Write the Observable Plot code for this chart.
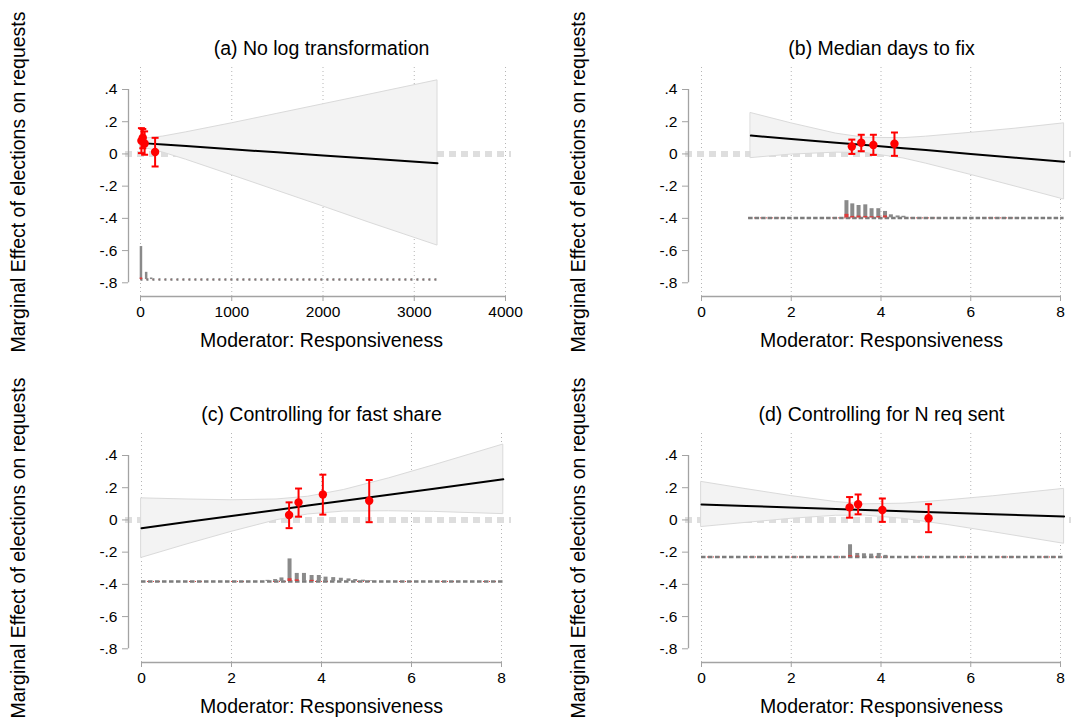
<!DOCTYPE html>
<html><head><meta charset="utf-8">
<script src="https://cdn.jsdelivr.net/npm/d3@7"></script>
<script src="https://cdn.jsdelivr.net/npm/@observablehq/plot@0.6"></script>
<style>
body{margin:0;background:#fff;}
#wrap{position:relative;width:1073px;height:724px;overflow:hidden;background:#fff;}
.panel{position:absolute;width:560px;height:366px;}
.panel svg{max-width:none !important;width:560px;height:366px;}
</style></head><body><div id="wrap"></div>
<script>
// ---------- shared labels / ticks ----------
const panelTitles = ["(a) No log transformation", "(b) Median days to fix", "(c) Controlling for fast share", "(d) Controlling for N req sent"];
const xTitle = "Moderator: Responsiveness";
const yTitle = "Marginal Effect of elections on requests";
const yTicks = [-0.8, -0.6, -0.4, -0.2, 0, 0.2, 0.4];
const aXTicks = [0, 1000, 2000, 3000, 4000];
const xTicks = [0, 2, 4, 6, 8];

// ---------- panel (a) ----------
const aBandX   = [0, 100, 250, 500, 1000, 1500, 2000, 2500, 3255];
const aBandEst = [.068, .064, .058, .049, .029, .010, -.009, -.029, -.058];
const aBandLo  = [.038, .030, .008, -.036, -.132, -.229, -.326, -.425, -.569];
const aBandHi  = [.098, .098, .108, .134, .190, .249, .308, .367, .457];
const aPtX  = [10, 25, 45, 160];
const aPtY  = [.082, .10, .065, .012];
const aPtLo = [.005, .035, -.005, -.078];
const aPtHi = [.16, .155, .14, .10];
const aHistX   = [5, 62, 117];
const aHistTop = [-.575, -.735, -.77];
const aHistBase = -.78;
const aHistRange = [5, 3270];
const aRedX = [5];
const aRedTop = [-.77];

// ---------- panel (b) ----------
const bBandX   = [1.1, 2, 3, 3.65, 4.5, 5, 6, 7, 8.08];
const bBandEst = [.114, .093, .070, .055, .035, .024, .000, -.023, -.048];
const bBandLo  = [-.026, -.004, .008, .006, -.028, -.060, -.130, -.203, -.283];
const bBandHi  = [.254, .190, .126, .100, .098, .107, .131, .157, .190];
const bPtX  = [3.35, 3.56, 3.83, 4.30];
const bPtY  = [.046, .069, .056, .063];
const bPtLo = [0, .017, -.006, -.012];
const bPtHi = [.089, .119, .119, .133];
const bHistX   = [3.23, 3.36, 3.50, 3.65, 3.79, 3.94, 4.09, 4.22, 4.37, 4.50];
const bHistTop = [-.29, -.31, -.32, -.316, -.34, -.34, -.357, -.378, -.385, -.387];
const bHistBase = -.397;
const bHistRange = [1.05, 8.08];
const bRedX   = [3.23, 3.36, 3.50, 3.65, 3.79, 3.94, 4.09];
const bRedTop = [-.375, -.388, -.386, -.388, -.39, -.389, -.385];

// ---------- panel (c) ----------
const cBandX   = [0, 1, 2, 3, 3.7, 4.5, 5.5, 6.5, 8.04];
const cBandEst = [-.051, -.013, .024, .062, .089, .119, .156, .194, .252];
const cBandLo  = [-.236, -.153, -.074, -.002, .034, .052, .054, .050, .036];
const cBandHi  = [.134, .127, .122, .127, .144, .186, .258, .339, .468];
const cPtX  = [3.28, 3.49, 4.03, 5.06];
const cPtY  = [.031, .109, .158, .119];
const cPtLo = [-.051, .020, .033, -.014];
const cPtHi = [.109, .195, .281, .248];
const cHistX   = [2.8, 2.97, 3.11, 3.29, 3.45, 3.61, 3.78, 3.94, 4.09, 4.26, 4.43, 4.6, 4.75, 4.92, 5.08];
const cHistTop = [-.375, -.37, -.36, -.242, -.332, -.332, -.345, -.345, -.355, -.358, -.362, -.366, -.37, -.374, -.378];
const cHistBase = -.382;
const cHistRange = [0, 8.04];
const cRedX   = [3.29, 3.45, 3.78];
const cRedTop = [-.365, -.372, -.375];

// ---------- panel (d) ----------
const dBandX   = [0, 1, 2, 3, 3.65, 4.5, 5.5, 6.5, 8.08];
const dBandEst = [.096, .087, .077, .068, .062, .054, .045, .036, .021];
const dBandLo  = [-.044, -.018, .007, .026, .027, .007, -.032, -.076, -.148];
const dBandHi  = [.236, .191, .148, .111, .097, .101, .122, .147, .193];
const dPtX  = [3.30, 3.49, 4.03, 5.06];
const dPtY  = [.078, .097, .062, .010];
const dPtLo = [.014, .035, -.012, -.076];
const dPtHi = [.142, .158, .133, .098];
const dHistX   = [3.31, 3.47, 3.62, 3.78, 3.95, 4.1];
const dHistTop = [-.154, -.208, -.21, -.212, -.208, -.22];
const dHistBase = -.230;
const dHistRange = [0, 8.08];
const dRedX   = [3.31, 3.47];
const dRedTop = [-.222, -.225];

// ---------- build ----------
const zip = (keys, arrs) => arrs[0].map((_, i) => Object.fromEntries(keys.map((k, j) => [k, arrs[j][i]])));
const cap = {draw(ctx, size) { const w = Math.sqrt(size / Math.PI); ctx.moveTo(-w, 0); ctx.lineTo(w, 0); }};
const fmtY = d => d === 0 ? "0" : d.toFixed(1).replace("0.", ".");
const fmtX = d => String(d);
const FONT = "'Liberation Sans', Arial, Helvetica, sans-serif";
const AX = "#a3a3a3";

function panel(c) {
  const band = zip(["x", "est", "lo", "hi"], [c.bandX, c.bandEst, c.bandLo, c.bandHi]);
  const pts = zip(["x", "y", "lo", "hi"], [c.ptX, c.ptY, c.ptLo, c.ptHi]);
  const hist = zip(["x", "top"], [c.histX, c.histTop]);
  const red = zip(["x", "top"], [c.redX, c.redTop]);
  const x0 = c.xDomain[0], x1 = c.xDomain[1];
  return Plot.plot({
    width: 560, height: 366,
    marginLeft: 128, marginRight: 46, marginTop: 67, marginBottom: 70,
    style: {fontFamily: FONT, fontSize: "15.5px", color: "#000", background: "transparent", overflow: "visible"},
    x: {domain: c.xDomain, insetLeft: c.insetLeft, insetRight: c.insetRight},
    y: {domain: [-0.8, 0.4], insetTop: 22, insetBottom: 13.7},
    marks: [
      Plot.gridX(c.xTicks, {stroke: "#b5b5b5", strokeOpacity: 1, strokeWidth: 1, strokeDasharray: "1 3"}),
      Plot.ruleY([0], {stroke: "#dedede", strokeWidth: 6, strokeDasharray: "7 5", dx: -3}),
      Plot.areaY(band, {x: "x", y1: "lo", y2: "hi", fill: "#f3f3f3", stroke: "#dadada", strokeWidth: 1}),
      Plot.line(band, {x: "x", y: "est", stroke: "#000", strokeWidth: 2}),
      Plot.ruleY([c.histBase], {x1: () => c.histRange[0], x2: () => c.histRange[1], stroke: "#e03a3a", strokeWidth: 1, strokeDasharray: "1 5"}),
      Plot.ruleY([c.histBase], {x1: () => c.histRange[0], x2: () => c.histRange[1], stroke: "#7c7c7c", strokeWidth: 2.5, strokeDasharray: c.dash}),
      Plot.ruleX(hist, {x: "x", y1: () => c.histBase, y2: "top", stroke: "#8a8a8a", strokeWidth: c.barW}),
      Plot.ruleX(red, {x: "x", y1: () => c.histBase, y2: "top", stroke: "#e03a3a", strokeWidth: c.barW}),
      Plot.ruleX(pts, {x: "x", y1: "lo", y2: "hi", stroke: "#ff0000", strokeWidth: 2}),
      Plot.dot(pts, {x: "x", y: "hi", symbol: cap, r: 3.5, stroke: "#ff0000", fill: "none", strokeWidth: 2}),
      Plot.dot(pts, {x: "x", y: "lo", symbol: cap, r: 3.5, stroke: "#ff0000", fill: "none", strokeWidth: 2}),
      Plot.dot(pts, {x: "x", y: "y", r: 4.2, fill: "#ff0000", stroke: "none"}),
      // axes
      Plot.ruleX([x0], {y1: () => -0.8, y2: () => 0.4, dx: -c.insetLeft, stroke: AX, strokeWidth: 1.3}),
      Plot.ruleY([-0.8], {x1: () => x0, x2: () => x1, dy: 13.7, stroke: AX, strokeWidth: 1.3}),
      Plot.axisY(yTicks, {tickSize: 6, tickPadding: 5, tickFormat: fmtY, stroke: AX, fill: "#000", fontSize: 15.5, label: null}),
      Plot.axisX(c.xTicks, {tickSize: 5, tickPadding: 4, tickFormat: fmtX, stroke: AX, fill: "#000", fontSize: 15.5, label: null}),
      Plot.text([c.title], {frameAnchor: "top", lineAnchor: "middle", dy: -19, fontSize: 19.5, fill: "#000"}),
      Plot.text([xTitle], {frameAnchor: "bottom", lineAnchor: "middle", dy: 44, fontSize: 19.5, fill: "#000"}),
      Plot.text([yTitle], {frameAnchor: "left", dx: -110, rotate: -90, textAnchor: "middle", fontSize: 19.5, fill: "#000"})
    ]
  });
}

const cfgs = [
  {title: panelTitles[0], xDomain: [0, 4000], xTicks: aXTicks, insetLeft: 12, insetRight: 9,
   bandX: aBandX, bandEst: aBandEst, bandLo: aBandLo, bandHi: aBandHi,
   ptX: aPtX, ptY: aPtY, ptLo: aPtLo, ptHi: aPtHi,
   histX: aHistX, histTop: aHistTop, histBase: aHistBase, histRange: aHistRange, redX: aRedX, redTop: aRedTop,
   barW: 2.5, dash: "2 4", left: 0, top: 0},
  {title: panelTitles[1], xDomain: [0, 8], xTicks: xTicks, insetLeft: 13, insetRight: 14,
   bandX: bBandX, bandEst: bBandEst, bandLo: bBandLo, bandHi: bBandHi,
   ptX: bPtX, ptY: bPtY, ptLo: bPtLo, ptHi: bPtHi,
   histX: bHistX, histTop: bHistTop, histBase: bHistBase, histRange: bHistRange, redX: bRedX, redTop: bRedTop,
   barW: 4, dash: "4.5 2", left: 560, top: 0},
  {title: panelTitles[2], xDomain: [0, 8], xTicks: xTicks, insetLeft: 13, insetRight: 13,
   bandX: cBandX, bandEst: cBandEst, bandLo: cBandLo, bandHi: cBandHi,
   ptX: cPtX, ptY: cPtY, ptLo: cPtLo, ptHi: cPtHi,
   histX: cHistX, histTop: cHistTop, histBase: cHistBase, histRange: cHistRange, redX: cRedX, redTop: cRedTop,
   barW: 4, dash: "4.5 2.5", left: 0, top: 366},
  {title: panelTitles[3], xDomain: [0, 8], xTicks: xTicks, insetLeft: 13, insetRight: 14,
   bandX: dBandX, bandEst: dBandEst, bandLo: dBandLo, bandHi: dBandHi,
   ptX: dPtX, ptY: dPtY, ptLo: dPtLo, ptHi: dPtHi,
   histX: dHistX, histTop: dHistTop, histBase: dHistBase, histRange: dHistRange, redX: dRedX, redTop: dRedTop,
   barW: 4, dash: "4.5 2.5", left: 560, top: 366}
];

const wrap = document.getElementById("wrap");
for (const c of cfgs) {
  const div = document.createElement("div");
  div.className = "panel";
  div.style.left = c.left + "px";
  div.style.top = c.top + "px";
  div.appendChild(panel(c));
  wrap.appendChild(div);
}
</script></body></html>
